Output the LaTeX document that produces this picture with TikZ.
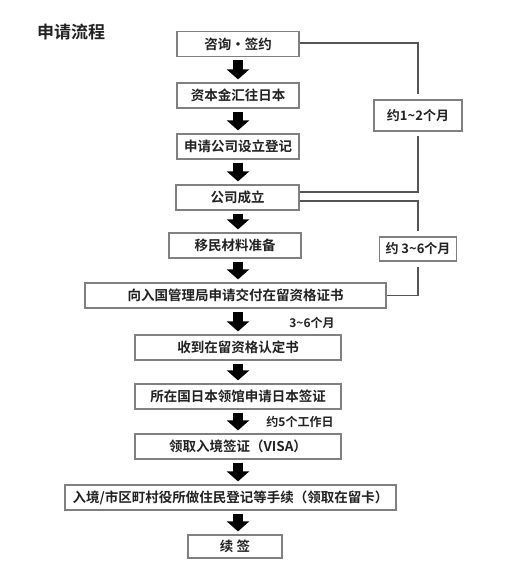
\documentclass[tikz,border=0pt]{standalone}
\usepackage{fontspec}
\setmainfont{Noto Sans CJK SC}[BoldFont={Noto Sans CJK SC Bold}]
\usetikzlibrary{arrows.meta}
\definecolor{txt}{HTML}{222222}
\definecolor{boxline}{HTML}{808080}
\definecolor{railline}{HTML}{555555}
\begin{document}
\begin{tikzpicture}[x=1pt,y=-1pt,
  stepbox/.style={draw=boxline,line width=1.2pt,fill=white,text=txt,
    font=\fontsize{13.5}{14}\selectfont\bfseries,inner sep=0pt,
    minimum height=25pt},
  notebox/.style={draw=boxline,line width=1.2pt,fill=white,text=txt,
    font=\fontsize{13}{14}\selectfont\bfseries,inner sep=0pt},
  notetext/.style={text=txt,font=\fontsize{12}{13}\selectfont\bfseries,inner sep=0pt},
  flow/.style={line width=10pt,-{Triangle[width=22pt,length=10pt]},
    shorten <=3pt,shorten >=3pt,black},
  rail/.style={draw=railline,line width=1.4pt}]
\useasboundingbox (0,0) rectangle (517,573);
\node[text=txt,font=\fontsize{17}{18}\selectfont\bfseries,inner sep=0pt] (title) at (71,32) {申请流程};
\coordinate (axis) at (238,0);
\node[stepbox,minimum width=122pt] (b1) at (238,44) {咨询·签约};
\node[stepbox,minimum width=122pt] (b2) at (238,95.5) {资本金汇往日本};
\node[stepbox,minimum width=122pt] (b3) at (238,146.5) {申请公司设立登记};
\node[stepbox,minimum width=123pt] (b4) at (237.5,197.5) {公司成立};
\node[stepbox,minimum width=132pt] (b5) at (235,245.5) {移民材料准备};
\node[stepbox,minimum width=301pt] (b6) at (235.5,295.5) {向入国管理局申请交付在留资格证书};
\node[stepbox,minimum width=206pt] (b7) at (238,347.5) {收到在留资格认定书};
\node[stepbox,minimum width=206pt] (b8) at (238,396.5) {所在国日本领馆申请日本签证};
\node[stepbox,minimum width=206pt] (b9) at (238,446.5) {领取入境签证（VISA）};
\node[stepbox,minimum width=331pt] (b10) at (230.5,497.5) {入境/市区町村役所做住民登记等手续（领取在留卡）};
\node[stepbox,minimum width=94pt,minimum height=23pt] (b11) at (235,546.5) {续 签};
\node[notebox,minimum width=88pt,minimum height=31pt] (n1) at (418,115.5) {约1\textasciitilde 2个月};
\node[notebox,minimum width=77pt,minimum height=24pt] (n2) at (418,249) {约 3\textasciitilde 6个月};
\node[notetext] (n3) at (312,323) {3\textasciitilde 6个月};
\node[notetext] (n4) at (300,422) {约5个工作日};
\foreach \a/\b in {b1/b2,b2/b3,b3/b4,b4/b5,b5/b6,b6/b7,b7/b8,b8/b9,b9/b10,b10/b11}
  \draw[flow] (\a.south -| axis) -- (\b.north -| axis);
\draw[rail,shorten >=5pt] ([yshift=1pt]b1.east) -| (n1.north);
\draw[rail,shorten <=4pt] (n1.south) |- ([yshift=5.5pt]b4.east);
\draw[rail,shorten >=5pt] ([yshift=-3.5pt]b4.east) -| (n2.north);
\draw[rail,shorten <=5pt] (n2.south) |- (b6.east);
\end{tikzpicture}
\end{document}
